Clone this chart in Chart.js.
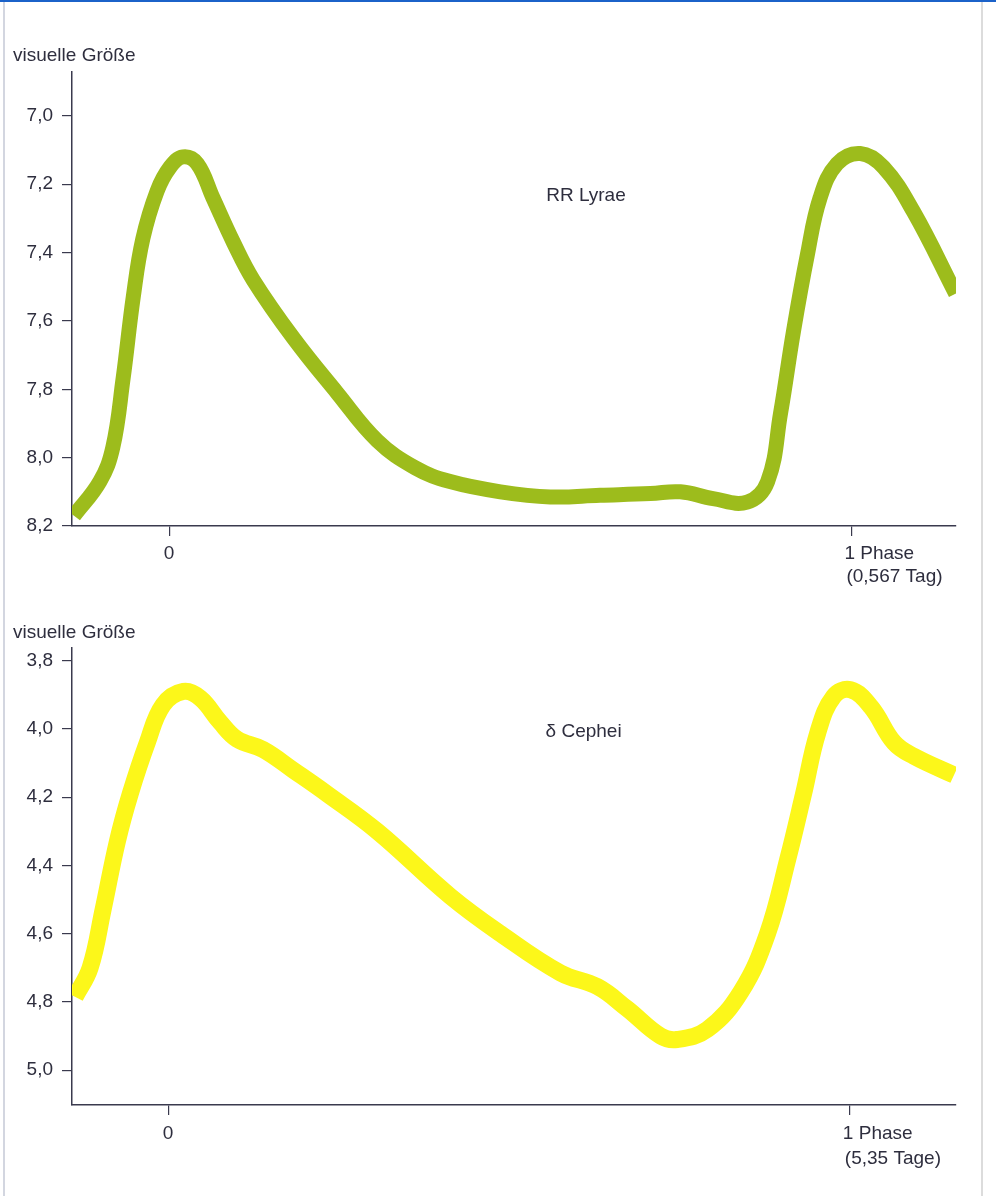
<!DOCTYPE html>
<html>
<head>
<meta charset="utf-8">
<script src="https://cdn.jsdelivr.net/npm/chart.js@4/dist/chart.umd.min.js"></script>
<style>
  html, body { margin: 0; padding: 0; background: #ffffff; overflow: hidden; }
  #page { position: relative; width: 996px; height: 1196px; background: #fff; }
  #c1 { position: absolute; left: 0; top: 0; }
  #c2 { position: absolute; left: 0; top: 600px; }
  .frame-top { position: absolute; left: 0; top: 0; width: 996px; height: 2px; background: #1b62c9; }
  .frame-left { position: absolute; left: 3px; top: 2px; width: 2px; height: 1194px; background: #d3d6e0; }
  .frame-right { position: absolute; left: 981px; top: 2px; width: 2px; height: 1194px; background: #dcdcdc; }
</style>
</head>
<body>
<div id="page">
  <canvas id="c1" width="996" height="600"></canvas>
  <canvas id="c2" width="996" height="596"></canvas>
  <div class="frame-top"></div>
  <div class="frame-left"></div>
  <div class="frame-right"></div>
</div>
<script>
// ---------- DATA ----------
const yTitle = 'visuelle Größe';

// RR Lyrae light curve (phase, visual magnitude)
const rrPhase = [-0.141, -0.103, -0.084, -0.069, -0.054, -0.040, -0.019, 0.000, 0.019, 0.040,
                 0.063, 0.093, 0.122, 0.181, 0.245, 0.304, 0.360, 0.411, 0.485, 0.558,
                 0.631, 0.705, 0.749, 0.797, 0.847, 0.877, 0.896, 0.915, 0.935, 0.954,
                 0.979, 1.013, 1.047, 1.091, 1.153];
const rrMag   = [8.17, 8.07, 7.97, 7.77, 7.53, 7.36, 7.22, 7.15, 7.12, 7.14,
                 7.24, 7.37, 7.48, 7.65, 7.81, 7.95, 8.03, 8.07, 8.10, 8.115,
                 8.11, 8.105, 8.10, 8.12, 8.13, 8.07, 7.87, 7.63, 7.41, 7.24,
                 7.14, 7.11, 7.15, 7.28, 7.52];
const rrTicks = [7.0, 7.2, 7.4, 7.6, 7.8, 8.0, 8.2];
const rrXTickLabels = [['0'], ['1 Phase', '(0,567 Tag)']];
const rrName = 'RR Lyrae';

// delta Cephei light curve (phase, visual magnitude)
const cepPhase = [-0.138, -0.116, -0.097, -0.076, -0.057, -0.032, -0.009, 0.021, 0.046, 0.075,
                  0.100, 0.138, 0.182, 0.232, 0.306, 0.413, 0.487, 0.575, 0.629, 0.673,
                  0.722, 0.746, 0.791, 0.840, 0.879, 0.909, 0.932, 0.953, 0.976, 1.001,
                  1.031, 1.065, 1.094, 1.153];
const cepMag   = [4.785, 4.70, 4.53, 4.33, 4.19, 4.04, 3.93, 3.89, 3.91, 3.98,
                  4.03, 4.06, 4.12, 4.19, 4.30, 4.49, 4.60, 4.715, 4.755, 4.82,
                  4.90, 4.91, 4.88, 4.77, 4.60, 4.38, 4.19, 4.01, 3.905, 3.885,
                  3.935, 4.04, 4.08, 4.135];
const cepTicks = [3.8, 4.0, 4.2, 4.4, 4.6, 4.8, 5.0];
const cepXTickLabels = [['0'], ['1 Phase', '(5,35 Tage)']];
const cepName = 'δ Cephei';

const xTicks = [0, 1];

// ---------- STYLE ----------
const FONT = '"Liberation Sans", Arial, Helvetica, sans-serif';
const TEXT = '#2e2e3e';
const AXIS = '#3a3a4e';

const labelsPlugin = {
  id: 'phaseLabels',
  afterDraw(chart, args, opts) {
    const ctx = chart.ctx;
    const xs = chart.scales.x, ys = chart.scales.y;
    const base = chart.chartArea.bottom;
    ctx.save();
    ctx.font = '19px ' + FONT;
    ctx.fillStyle = TEXT;
    ctx.textBaseline = 'middle';
    opts.tickLabels.forEach((lines, i) => {
      const px = xs.getPixelForValue(xTicks[i]);
      lines.forEach((line, j) => {
        const y = base + opts.lineOffsets[j];
        if (i === 0) { ctx.textAlign = 'center'; ctx.fillText(line, px - 1, y); }
        else { ctx.textAlign = 'left'; ctx.fillText(line, px - 7 + j * 2, y); }
      });
    });
    ctx.textAlign = 'left';
    ctx.fillText(opts.name, xs.getPixelForValue(opts.nameAt[0]), ys.getPixelForValue(opts.nameAt[1]));
    ctx.restore();
  }
};

function makeChart(canvasId, phases, mags, yTickVals, yMin, yMax, xMin, xMax, color, width,
                   titlePad, xAxisHeight, tickLabels, lineOffsets, name, nameAt) {
  const pts = phases.map((p, i) => ({ x: p, y: mags[i] }));
  return new Chart(document.getElementById(canvasId), {
    type: 'line',
    data: {
      datasets: [{
        data: pts,
        borderColor: color,
        borderWidth: width,
        borderCapStyle: 'butt',
        borderJoinStyle: 'round',
        pointRadius: 0,
        fill: false,
        tension: 0.4
      }]
    },
    options: {
      responsive: false,
      devicePixelRatio: 1,
      animation: false,
      layout: { padding: { left: 13, right: 40, top: 0, bottom: 0 } },
      plugins: {
        legend: { display: false },
        tooltip: { enabled: false },
        title: {
          display: true, text: yTitle, align: 'start', color: TEXT,
          font: { size: 19, family: FONT, weight: 'normal' },
          padding: titlePad
        },
        phaseLabels: { tickLabels, lineOffsets, name, nameAt }
      },
      scales: {
        x: {
          type: 'linear', min: xMin, max: xMax,
          afterBuildTicks: s => { s.ticks = xTicks.map(v => ({ value: v })); },
          afterFit: s => { s.height = xAxisHeight; },
          ticks: { display: false },
          grid: { display: true, drawOnChartArea: false, drawTicks: true, tickLength: 10, color: AXIS, lineWidth: 1.2 },
          border: { display: true, color: AXIS, width: 1.5 }
        },
        y: {
          type: 'linear', reverse: true, min: yMin, max: yMax,
          afterBuildTicks: s => { s.ticks = yTickVals.map(v => ({ value: v })); },
          afterFit: s => { s.width = 59; },
          ticks: {
            color: TEXT, padding: 9,
            font: { size: 19, family: FONT },
            callback: v => v.toFixed(1).replace('.', ',')
          },
          grid: { display: true, drawOnChartArea: false, drawTicks: true, tickLength: 10, color: AXIS, lineWidth: 1.2 },
          border: { display: true, color: AXIS, width: 1.5 }
        }
      }
    },
    plugins: [labelsPlugin]
  });
}

makeChart('c1', rrPhase, rrMag, rrTicks, 6.871, 8.2, -0.1439, 1.1535, '#9dbc1c', 15,
          { top: 44, bottom: 5 }, 74, rrXTickLabels, [28, 51], rrName, [0.552, 7.234]);

makeChart('c2', cepPhase, cepMag, cepTicks, 3.762, 5.102, -0.1426, 1.1559, '#fcf71a', 17,
          { top: 21, bottom: 4 }, 91, cepXTickLabels, [29, 54], cepName, [0.553, 4.008]);
</script>
</body>
</html>
